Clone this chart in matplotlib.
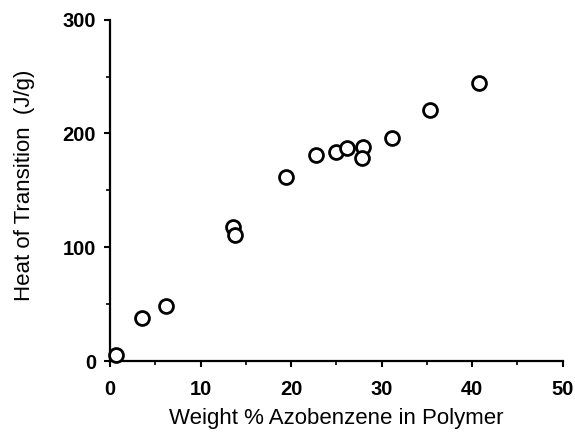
import numpy as np
import matplotlib; matplotlib.use("Agg")
import matplotlib.pyplot as plt
from matplotlib.ticker import MultipleLocator

plt.rcParams["font.family"] = ["Liberation Sans", "DejaVu Sans"]

# weight % azobenzene vs heat of transition (J/g)
wt_pct = [0.7, 3.5, 6.2, 13.6, 13.8, 19.4, 22.8, 25.0, 26.2, 27.9, 27.8, 31.1, 35.3, 40.8]
heat = [5, 38, 48, 118, 111, 162, 181, 184, 187, 188, 178, 196, 221, 244]

XTICKS = [0, 10, 20, 30, 40, 50]
YTICKS = [0, 100, 200, 300]

fig = plt.figure(figsize=(5.75, 4.36), dpi=100)
ax = fig.add_axes([0.1913, 0.172, 0.7874, 0.783])
ax.plot(wt_pct, heat, "o", ls="none", ms=10, mfc="white", mec="black", mew=2.0,
        clip_on=False, zorder=3)

ax.set_xlim(0, 50); ax.set_ylim(0, 300)
ax.set_xticks(XTICKS); ax.set_yticks(YTICKS)
ax.xaxis.set_minor_locator(MultipleLocator(5))
ax.yaxis.set_minor_locator(MultipleLocator(50))
for s in ("top", "right"):
    ax.spines[s].set_visible(False)
for s in ("left", "bottom"):
    ax.spines[s].set_linewidth(1.6)
ax.tick_params(which="major", direction="out", length=4, width=1.5, labelsize=14.5, color="black")
ax.tick_params(which="minor", direction="out", length=3, width=1.2)
ax.tick_params(axis="x", which="major", pad=10)
ax.tick_params(axis="y", which="major", pad=6)
for t in ax.get_xticklabels() + ax.get_yticklabels():
    t.set_fontweight("bold")

ax.set_xlabel("Weight % Azobenzene in Polymer", fontsize=16)
ax.set_ylabel("Heat of Transition  (J/g)", fontsize=16)
ax.xaxis.set_label_coords(0.5, -0.138)
ax.yaxis.set_label_coords(-0.166, 0.514)

fig.savefig("out.png", dpi=100)
